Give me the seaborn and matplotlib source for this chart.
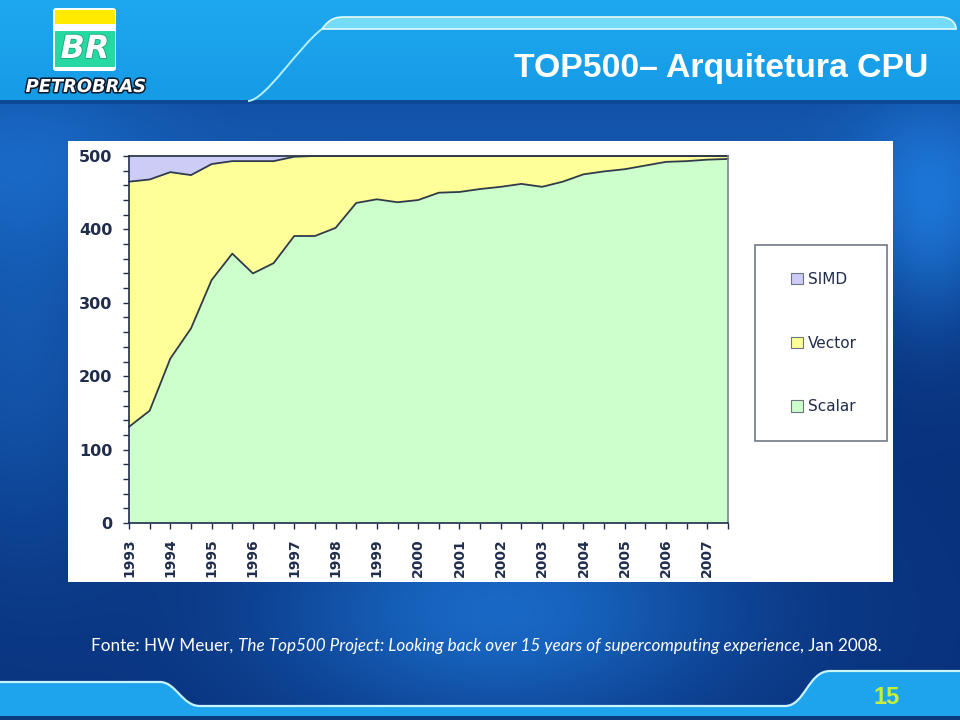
import numpy as np
import pandas as pd
import matplotlib
matplotlib.use("Agg")
import matplotlib.pyplot as plt
import seaborn as sns
from matplotlib.patches import Rectangle, FancyBboxPatch, PathPatch, Patch
from matplotlib.path import Path
import matplotlib.patheffects as pe

# ---------------- data ----------------
years = [str(y) for y in range(1993, 2008)]
lists = [f"{m}/{y}" for y in range(1993, 2008) for m in ("06", "11")]
scalar = [131, 153, 224, 265, 331, 367, 340, 354, 391, 391, 402, 436, 441, 437, 440,
          450, 451, 455, 458, 462, 458, 465, 475, 479, 482, 487, 492, 493, 495, 496]
vector = [334, 315, 254, 209, 158, 126, 153, 139, 108, 109, 98, 64, 59, 63, 60,
          50, 49, 45, 42, 38, 42, 35, 25, 21, 18, 13, 8, 7, 5, 4]
simd = [35, 32, 22, 26, 11, 7, 7, 7, 1, 0, 0, 0, 0, 0, 0,
        0, 0, 0, 0, 0, 0, 0, 0, 0, 0, 0, 0, 0, 0, 0]
series_names = ["SIMD", "Vector", "Scalar"]
yticks = [0, 100, 200, 300, 400, 500]
title = "TOP500\u2013 Arquitetura CPU"
source_parts = [("Fonte: HW Meuer, ", "normal"),
                ("The Top500 Project: Looking back over 15 years of supercomputing experience", "italic"),
                (", Jan 2008.", "normal")]
page_no = "15"

C_SIMD, C_VECTOR, C_SCALAR = "#ccccf6", "#ffff99", "#ccffcc"
NAVY = "#1f2c4c"
EDGE = "#2f3b4b"

sns.set_theme(style="white")
plt.rcParams["font.family"] = ["DejaVu Sans"]

W, H = 960, 720
fig = plt.figure(figsize=(9.6, 7.2), dpi=100)
bg = fig.add_axes([0, 0, 1, 1])
bg.set_xlim(0, W)
bg.set_ylim(H, 0)
bg.axis("off")

# ---------------- slide background ----------------
yy, xx = np.mgrid[0:H, 0:W].astype(float)
dark = np.array([9, 50, 125]) / 255.0
bright = np.array([30, 122, 220]) / 255.0
w = (0.75 * np.exp(-((xx - 500) / 230) ** 2) * np.exp(-((yy - 610) / 120) ** 2)
     + 0.6 * np.exp(-((xx - 930) / 70) ** 2) * np.exp(-((yy - 230) / 110) ** 2)
     + 0.5 * np.exp(-((xx - 20) / 120) ** 2) * np.exp(-((yy - 330) / 220) ** 2)
     + 0.5 * np.exp(-((yy - 140) / 110) ** 2))
w = np.clip(w, 0, 1)
img = dark + (bright - dark) * w[..., None]
bg.imshow(img, extent=[0, W, H, 0], zorder=0, aspect="auto")

# header band
hy, hx = np.mgrid[0:100, 0:W].astype(float)
htop = np.array([30, 168, 238]) / 255.0
hbot = np.array([22, 155, 230]) / 255.0
himg = htop + (hbot - htop) * (hy / 100.0)[..., None]
bg.imshow(himg, extent=[0, W, 100, 0], zorder=1, aspect="auto")
bg.add_patch(Rectangle((0, 100), W, 4, color="#0c4a98", zorder=1.1, lw=0))

# header light band with curves
band = Path([(322, 29), (330, 18), (336, 17), (345, 17), (940, 17), (952, 17), (956, 24), (956, 29), (322, 29)],
            [Path.MOVETO, Path.CURVE4, Path.CURVE4, Path.CURVE4, Path.LINETO,
             Path.CURVE4, Path.CURVE4, Path.CURVE4, Path.CLOSEPOLY])
bg.add_patch(PathPatch(band, facecolor="#74dcf7", edgecolor="#e6fbff", lw=1.2, zorder=1.2))
slope = Path([(248, 101), (265, 101), (300, 45), (322, 29)],
             [Path.MOVETO, Path.CURVE4, Path.CURVE4, Path.CURVE4])
bg.add_patch(PathPatch(slope, facecolor="none", edgecolor="#b5f0ff", lw=1.4, zorder=1.2))

# footer band
foot = Path([(0, 682), (160, 682), (176, 682), (182, 706), (200, 706), (785, 706),
             (805, 706), (808, 671), (830, 671), (960, 671), (960, 716), (0, 716), (0, 682)],
            [Path.MOVETO, Path.LINETO, Path.CURVE4, Path.CURVE4, Path.CURVE4, Path.LINETO,
             Path.CURVE4, Path.CURVE4, Path.CURVE4, Path.LINETO, Path.LINETO, Path.LINETO, Path.CLOSEPOLY])
bg.add_patch(PathPatch(foot, facecolor="#1ea4ec", edgecolor="none", zorder=1.2))
foot_line = Path([(0, 682), (160, 682), (176, 682), (182, 706), (200, 706), (785, 706),
                  (805, 706), (808, 671), (830, 671), (960, 671)],
                 [Path.MOVETO, Path.LINETO, Path.CURVE4, Path.CURVE4, Path.CURVE4, Path.LINETO,
                  Path.CURVE4, Path.CURVE4, Path.CURVE4, Path.LINETO])
bg.add_patch(PathPatch(foot_line, facecolor="none", edgecolor="#c8f4ff", lw=1.6, zorder=1.3))
bg.add_patch(Rectangle((0, 716), W, 4, color="#0b3b7c", lw=0, zorder=1.3))

# logo
bg.add_patch(FancyBboxPatch((53, 8), 63, 63, boxstyle="round,pad=0,rounding_size=3",
                            facecolor="white", edgecolor="none", zorder=2))
bg.add_patch(Rectangle((55, 10), 60, 13.5, color="#ffea00", lw=0, zorder=2.1))
bg.add_patch(Rectangle((55, 31), 60, 36, color="#26d9a2", lw=0, zorder=2.1))
bg.text(85, 49.5, "BR", color="white", fontsize=23, fontweight="bold", fontstyle="italic",
        ha="center", va="center", zorder=2.2,
        path_effects=[pe.withStroke(linewidth=1.2, foreground="#1aa57a")])
petro = bg.text(86, 87, "PETROBRAS", color="white", fontsize=12, fontweight="heavy",
                fontstyle="italic", ha="center", va="center", zorder=2.2,
                path_effects=[pe.withStroke(linewidth=2.2, foreground="#0a1a2a")])

renderer = fig.canvas.get_renderer()


def fit(t, width):
    bb = t.get_window_extent(renderer)
    t.set_fontsize(t.get_fontsize() * width / bb.width)


fit(petro, 120)

# title
tt = bg.text(928, 68, title, color="white", fontsize=23, fontweight="bold",
             family=["Liberation Sans Narrow", "Liberation Sans"], ha="right", va="center", zorder=3)
fit(tt, 416)

# source line (mixed roman / italic)
x0, yb = 91, 646
pieces = []
for txt, sty in source_parts:
    t = bg.text(x0, yb, txt, color="white", fontsize=11, fontstyle=sty, family="Lato",
                ha="left", va="center", zorder=3)
    pieces.append(t)
    x0 += t.get_window_extent(renderer).width
total = x0 - 91
scale = 790 / total
x0 = 91
for t in pieces:
    t.set_fontsize(t.get_fontsize() * scale)
    t.set_x(x0)
    x0 += t.get_window_extent(renderer).width

bg.text(887, 697, page_no, color="#c6ee3a", fontsize=17, fontweight="bold",
        family=["Liberation Sans Narrow", "Liberation Sans"], ha="center", va="center", zorder=3)

# chart panel and legend box
bg.add_patch(Rectangle((68, 141), 825, 441, facecolor="white", edgecolor="none", zorder=2))
bg.add_patch(Rectangle((755, 245), 132, 196, facecolor="white", edgecolor="#6f7984", lw=1.2, zorder=2.5))

# ---------------- chart ----------------
ax = fig.add_axes([129 / W, 1 - 523 / H, 599 / W, 367 / H])
ax.patch.set_alpha(0)
x = np.arange(len(lists))
ax.stackplot(x, scalar, vector, simd, colors=[C_SCALAR, C_VECTOR, C_SIMD], linewidth=0)

s = np.array(scalar)
sv = s + np.array(vector)
tot = sv + np.array(simd)
df = pd.DataFrame({
    "x": np.concatenate([x, x, x]),
    "value": np.concatenate([s, sv, tot]),
    "boundary": ["Scalar"] * len(x) + ["Vector"] * len(x) + ["SIMD"] * len(x),
})
sns.lineplot(data=df, x="x", y="value", hue="boundary", palette=[EDGE, EDGE, EDGE],
             linewidth=1.3, legend=False, ax=ax)
for ln in ax.lines:
    ln.set_clip_on(False)

ax.set_xlim(0, len(x) - 1)
ax.set_ylim(0, 500)
ax.set_xticks(x[::2])
ax.set_xticklabels(years)
ax.set_xticks(x, minor=True)
ax.set_yticks(yticks)
ax.set_yticks(np.arange(0, 501, 20), minor=True)
ax.set_xlabel("")
ax.set_ylabel("")
ax.tick_params(which="both", direction="out", length=4, width=1, color=NAVY,
               bottom=True, left=True)
ax.tick_params(axis="x", labelrotation=90, labelsize=10, pad=7, labelcolor=NAVY)
ax.tick_params(axis="y", labelsize=11.5, pad=8, labelcolor=NAVY)
for lbl in ax.get_xticklabels() + ax.get_yticklabels():
    lbl.set_fontweight("bold")
for side in ("left", "bottom"):
    ax.spines[side].set_color(NAVY)
    ax.spines[side].set_linewidth(1.2)
ax.spines["top"].set_visible(False)
ax.spines["right"].set_color("#7b8591")
ax.spines["right"].set_linewidth(1.2)
ax.grid(False)

handles = [Patch(facecolor=c, edgecolor="#6d7680", linewidth=0.8)
           for c in (C_SIMD, C_VECTOR, C_SCALAR)]
fig.legend(handles, series_names, loc="center", bbox_to_anchor=(824 / W, 1 - 343 / H),
           frameon=False, labelspacing=3.2, handlelength=0.75, handleheight=0.75,
           handletextpad=0.35, fontsize=11, labelcolor=NAVY)

fig.savefig("out.png", dpi=100)
